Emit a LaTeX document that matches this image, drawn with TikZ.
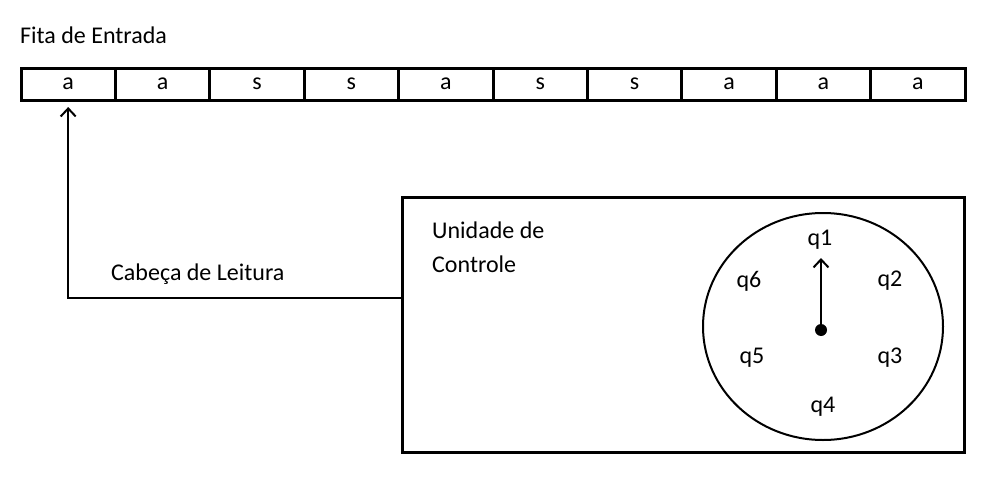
\documentclass[tikz,border=0pt]{standalone}
\usepackage{fontspec}
\setmainfont{Carlito}
\usepackage{tikz}
\usetikzlibrary{positioning,arrows.meta}

\tikzset{
    cell/.style={draw, line width=3pt, minimum width=94.4pt, minimum height=32pt,
        inner sep=0pt, outer sep=0pt, text height=11pt, text depth=0pt},
    label/.style={inner sep=0pt, anchor=west},
    state/.style={inner sep=0pt},
    head/.style={line width=2pt, -{Straight Barb[length=8pt,width=15pt,line width=2pt]}}
}

\begin{document}
\begin{tikzpicture}[x=1pt, y=-1pt, font=\fontsize{24}{28}\selectfont]

        \useasboundingbox (0,0) rectangle (996,479);

        % Title
        \node[label] (title) at (20,35) {Fita de Entrada};

        % Tape
        \node[cell] (c1) at (68.2,84) {a};
        \foreach \s [count=\i from 2, remember=\i as \j (initially 1)] in {a,s,s,a,s,s,a,a,a} {
            \node[cell, right=0pt of c\j] (c\i) {\s};
        }

        % Control unit
        \node[draw, line width=3pt, minimum width=562pt, minimum height=255pt,
              inner sep=0pt, outer sep=0pt] (ctrl) at (683,324.5) {};
        \node[label] (unit) at (432,230) {Unidade de};
        \node[label] (unit2) at (432,264) {Controle};

        % Reading head
        \coordinate (corner) at (68.2,298);
        \draw[head] (ctrl.west |- corner) -- (corner) -- ([yshift=-7pt]c1.south);
        \node[label] (headlbl) at (111,274) {Cabeça de Leitura};

        % Dial
        \draw[line width=2pt] (823,326.5) ellipse [x radius=120pt, y radius=113.5pt];
        \node[circle, fill, inner sep=0pt, minimum size=12pt] (hub) at (821,330) {};
        \coordinate (tip) at (821,258);
        \draw[head] (hub.center) -- (tip);

        % States
        \node[state] (q1) at (820,240) {q1};
        \node[state] (q2) at (890,281) {q2};
        \node[state] (q3) at (890,358) {q3};
        \node[state] (q4) at (823,407) {q4};
        \node[state] (q5) at (752,358) {q5};
        \node[state] (q6) at (749,281) {q6};

    \end{tikzpicture}
\end{document}
